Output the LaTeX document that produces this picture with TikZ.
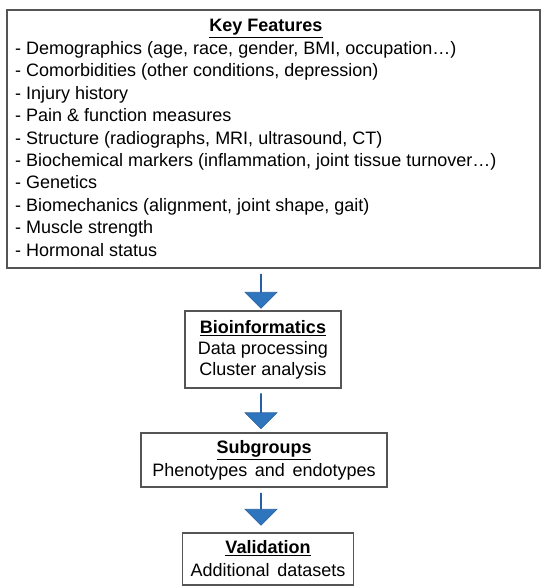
\documentclass[tikz,border=0pt]{standalone}
\usepackage{fontspec}
\setmainfont{Liberation Sans}
\usetikzlibrary{shapes.arrows}
\definecolor{boxline}{RGB}{85,85,85}
\definecolor{arrowblue}{RGB}{46,117,190}
\definecolor{arrowedge}{RGB}{40,95,160}
\newcommand{\mywidesp}{\spaceskip=0.42em\relax}
\begin{document}
\begin{tikzpicture}[x=1pt,y=-1pt,
  frame/.style={draw=boxline,line width=1.4pt,inner sep=0pt},
  txt/.style={inner sep=0pt,font=\fontsize{18}{21}\selectfont},
  ttl/.style={txt,font=\fontsize{18}{21}\selectfont\bfseries},
  bluearrow/.style={single arrow,draw=arrowedge,fill=arrowblue,line width=0.6pt,
     shape border rotate=270,single arrow head extend=8.5pt,single arrow tip angle=90,
     minimum width=32pt,inner sep=0pt}]
\useasboundingbox (0,0) rectangle (542,586);
% key features box
\node[frame,minimum width=533pt,minimum height=258pt] (key) at (273.5,139) {};
\node[ttl,anchor=base] (keyt) at (266,32) {\underline{Key Features}};
\foreach \t [count=\i from 0] in {{- Demographics (age, race, gender, BMI, occupation\dots)},
  {- Comorbidities (other conditions, depression)},
  {- Injury history},
  {- Pain \& function measures},
  {- Structure (radiographs, MRI, ultrasound, CT)},
  {- Biochemical markers (inflammation, joint tissue turnover\dots)},
  {- Genetics},
  {- Biomechanics (alignment, joint shape, gait)},
  {- Muscle strength},
  {- Hormonal status}}
  \node[txt,anchor=base west] (k\i) at (15,54.5+22.4*\i) {\t};
% bioinformatics
\node[frame,minimum width=156pt,minimum height=77pt] (bio) at (263,349.5) {};
\node[ttl] (biot) at (263,328) {\underline{Bioinformatics}};
\node[txt] (bio1) at (263,350) {Data processing};
\node[txt] (bio2) at (263,371) {Cluster analysis};
% subgroups
\node[frame,minimum width=246pt,minimum height=54pt] (sub) at (264,460) {};
\node[ttl] (subt) at (264,450) {\underline{Subgroups}};
\node[txt] (sub1) at (264,472) {\mywidesp Phenotypes and endotypes};
% validation
\node[frame,minimum width=171pt,minimum height=52pt] (val) at (268,559) {};
\node[ttl] (valt) at (268,548) {\underline{Validation}};
\node[txt] (val1) at (268,570) {\mywidesp Additional datasets};
% arrows
\node[bluearrow,minimum height=34pt] (a1) at (261,291) {};
\node[bluearrow,minimum height=35pt] (a2) at (261,411) {};
\node[bluearrow,minimum height=32pt] (a3) at (261,509) {};
\end{tikzpicture}
\end{document}
